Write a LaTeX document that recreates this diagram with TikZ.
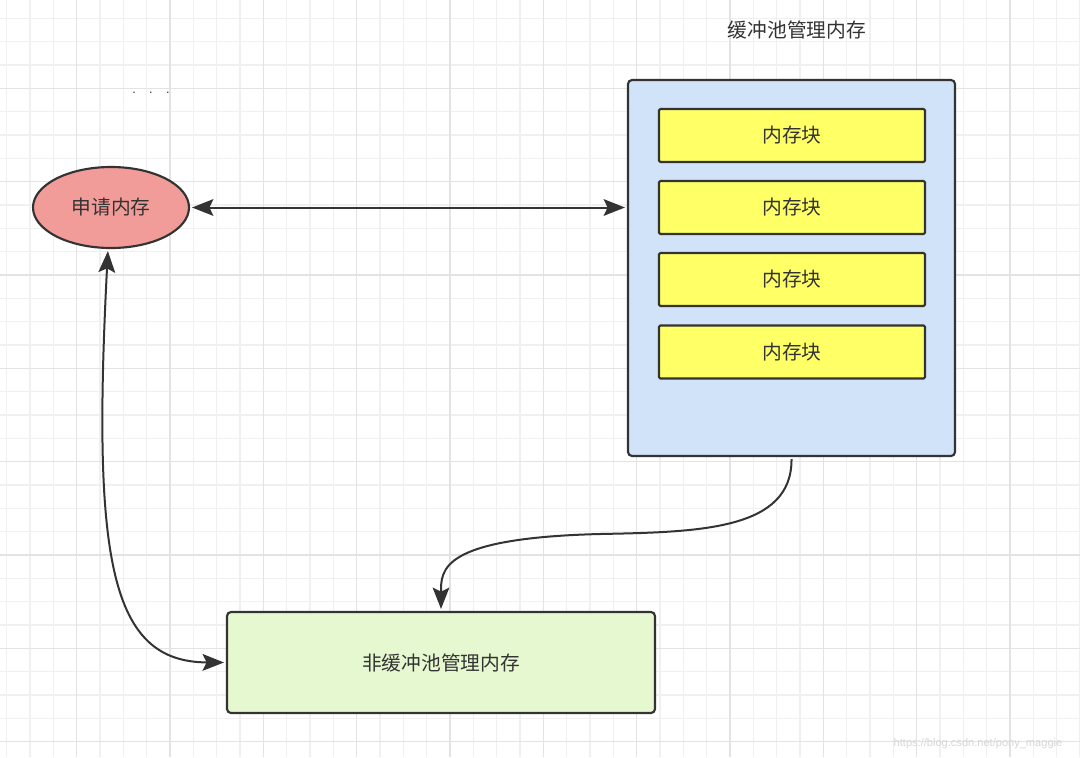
\documentclass[tikz,border=0pt]{standalone}
\usepackage{fontspec}
\newfontfamily\cjk{Noto Sans CJK SC}
\setmainfont{Liberation Sans}
\usetikzlibrary{arrows.meta,shapes.geometric}
\definecolor{gridminor}{HTML}{F0F0F0}
\definecolor{gridmajor}{HTML}{E3E3E3}
\definecolor{ink}{HTML}{333333}
\definecolor{ellfill}{HTML}{F19C99}
\definecolor{poolfill}{HTML}{D0E3F9}
\definecolor{blockfill}{HTML}{FFFF66}
\definecolor{greenfill}{HTML}{E6F8D0}
\definecolor{wm}{HTML}{D6D6D6}
\tikzset{
  minorline/.style={draw=gridminor, line width=0.9pt},
  majorline/.style={draw=gridmajor, line width=1.1pt},
  shapebox/.style={draw=ink, line width=1.6pt, rounded corners=3pt, inner sep=0pt, text=ink, font=\cjk\fontsize{14.8pt}{16pt}\selectfont},
  poolbox/.style={shapebox, fill=poolfill, minimum width=245.25pt, minimum height=282pt},
  blockbox/.style={shapebox, rounded corners=1pt, fill=blockfill, minimum width=199.5pt, minimum height=39.75pt},
  greenbox/.style={shapebox, fill=greenfill, minimum width=321pt, minimum height=75.75pt},
  ellnode/.style={ellipse, draw=ink, line width=1.6pt, fill=ellfill, minimum width=117pt, minimum height=60.75pt, inner sep=0pt, text=ink, font=\cjk\fontsize{14.8pt}{16pt}\selectfont},
  conn/.style={draw=ink, line width=1.5pt, shorten <=1.5pt, shorten >=1.5pt},
  tip/.tip={Stealth[length=16pt, width=12.5pt, inset=3pt]},
}
\begin{document}
\begin{tikzpicture}[x=0.75pt, y=-0.75pt]
\useasboundingbox (0,0) rectangle (1080,757);
\fill[white] (0,0) rectangle (1080,757);
% grid
\foreach \i in {0,...,46} {
  \draw[minorline] ({6.667+23.333*\i},0) -- ({6.667+23.333*\i},757);
}
\foreach \i in {0,...,32} {
  \draw[minorline] (0,{18.33+23.333*\i}) -- (1080,{18.33+23.333*\i});
}
\foreach \i in {0,...,10} {
  \draw[majorline] ({76.667+93.333*\i},0) -- ({76.667+93.333*\i},757);
}
\foreach \i in {0,...,7} {
  \draw[majorline] (0,{88.33+93.333*\i}) -- (1080,{88.33+93.333*\i});
}
% texts
\node[text=ink, font=\cjk\fontsize{14.8pt}{16pt}\selectfont] (title) at (797,30) {缓冲池管理内存};
\node[text=ink, font=\fontsize{9.5pt}{10pt}\selectfont, inner sep=0pt] (dots) at (151,93) {.\hspace{10pt}.\hspace{10pt}.};
\node[text=wm, font=\fontsize{8.3pt}{9pt}\selectfont, inner sep=0pt] (wmark) at (978,744) {https://blog.csdn.net/pony\_maggie};
% shapes
\node[ellnode] (req) at (111,207.5) {申请内存};
\node[poolbox] (pool) at (791.5,268) {};
\node[blockbox] (b1) at (792,135.5) {内存块};
\node[blockbox] (b2) at (792,207.5) {内存块};
\node[blockbox] (b3) at (792,279.5) {内存块};
\node[blockbox] (b4) at (792,352) {内存块};
\node[greenbox] (nonpool) at (441,662.5) {非缓冲池管理内存};
% connectors
\draw[conn, {tip}-{tip}] (req.east) -- (req.east -| pool.west);
\draw[conn, {tip}-{tip}] ([xshift=-2.25pt]req.south) .. controls (92,560) and (110,662) .. (nonpool.west);
\draw[conn, -{tip}] (pool.south) .. controls (792,530) and (700,532) .. (600,534) .. controls (440,538) and (441,570) .. (nonpool.north);
\end{tikzpicture}
\end{document}
